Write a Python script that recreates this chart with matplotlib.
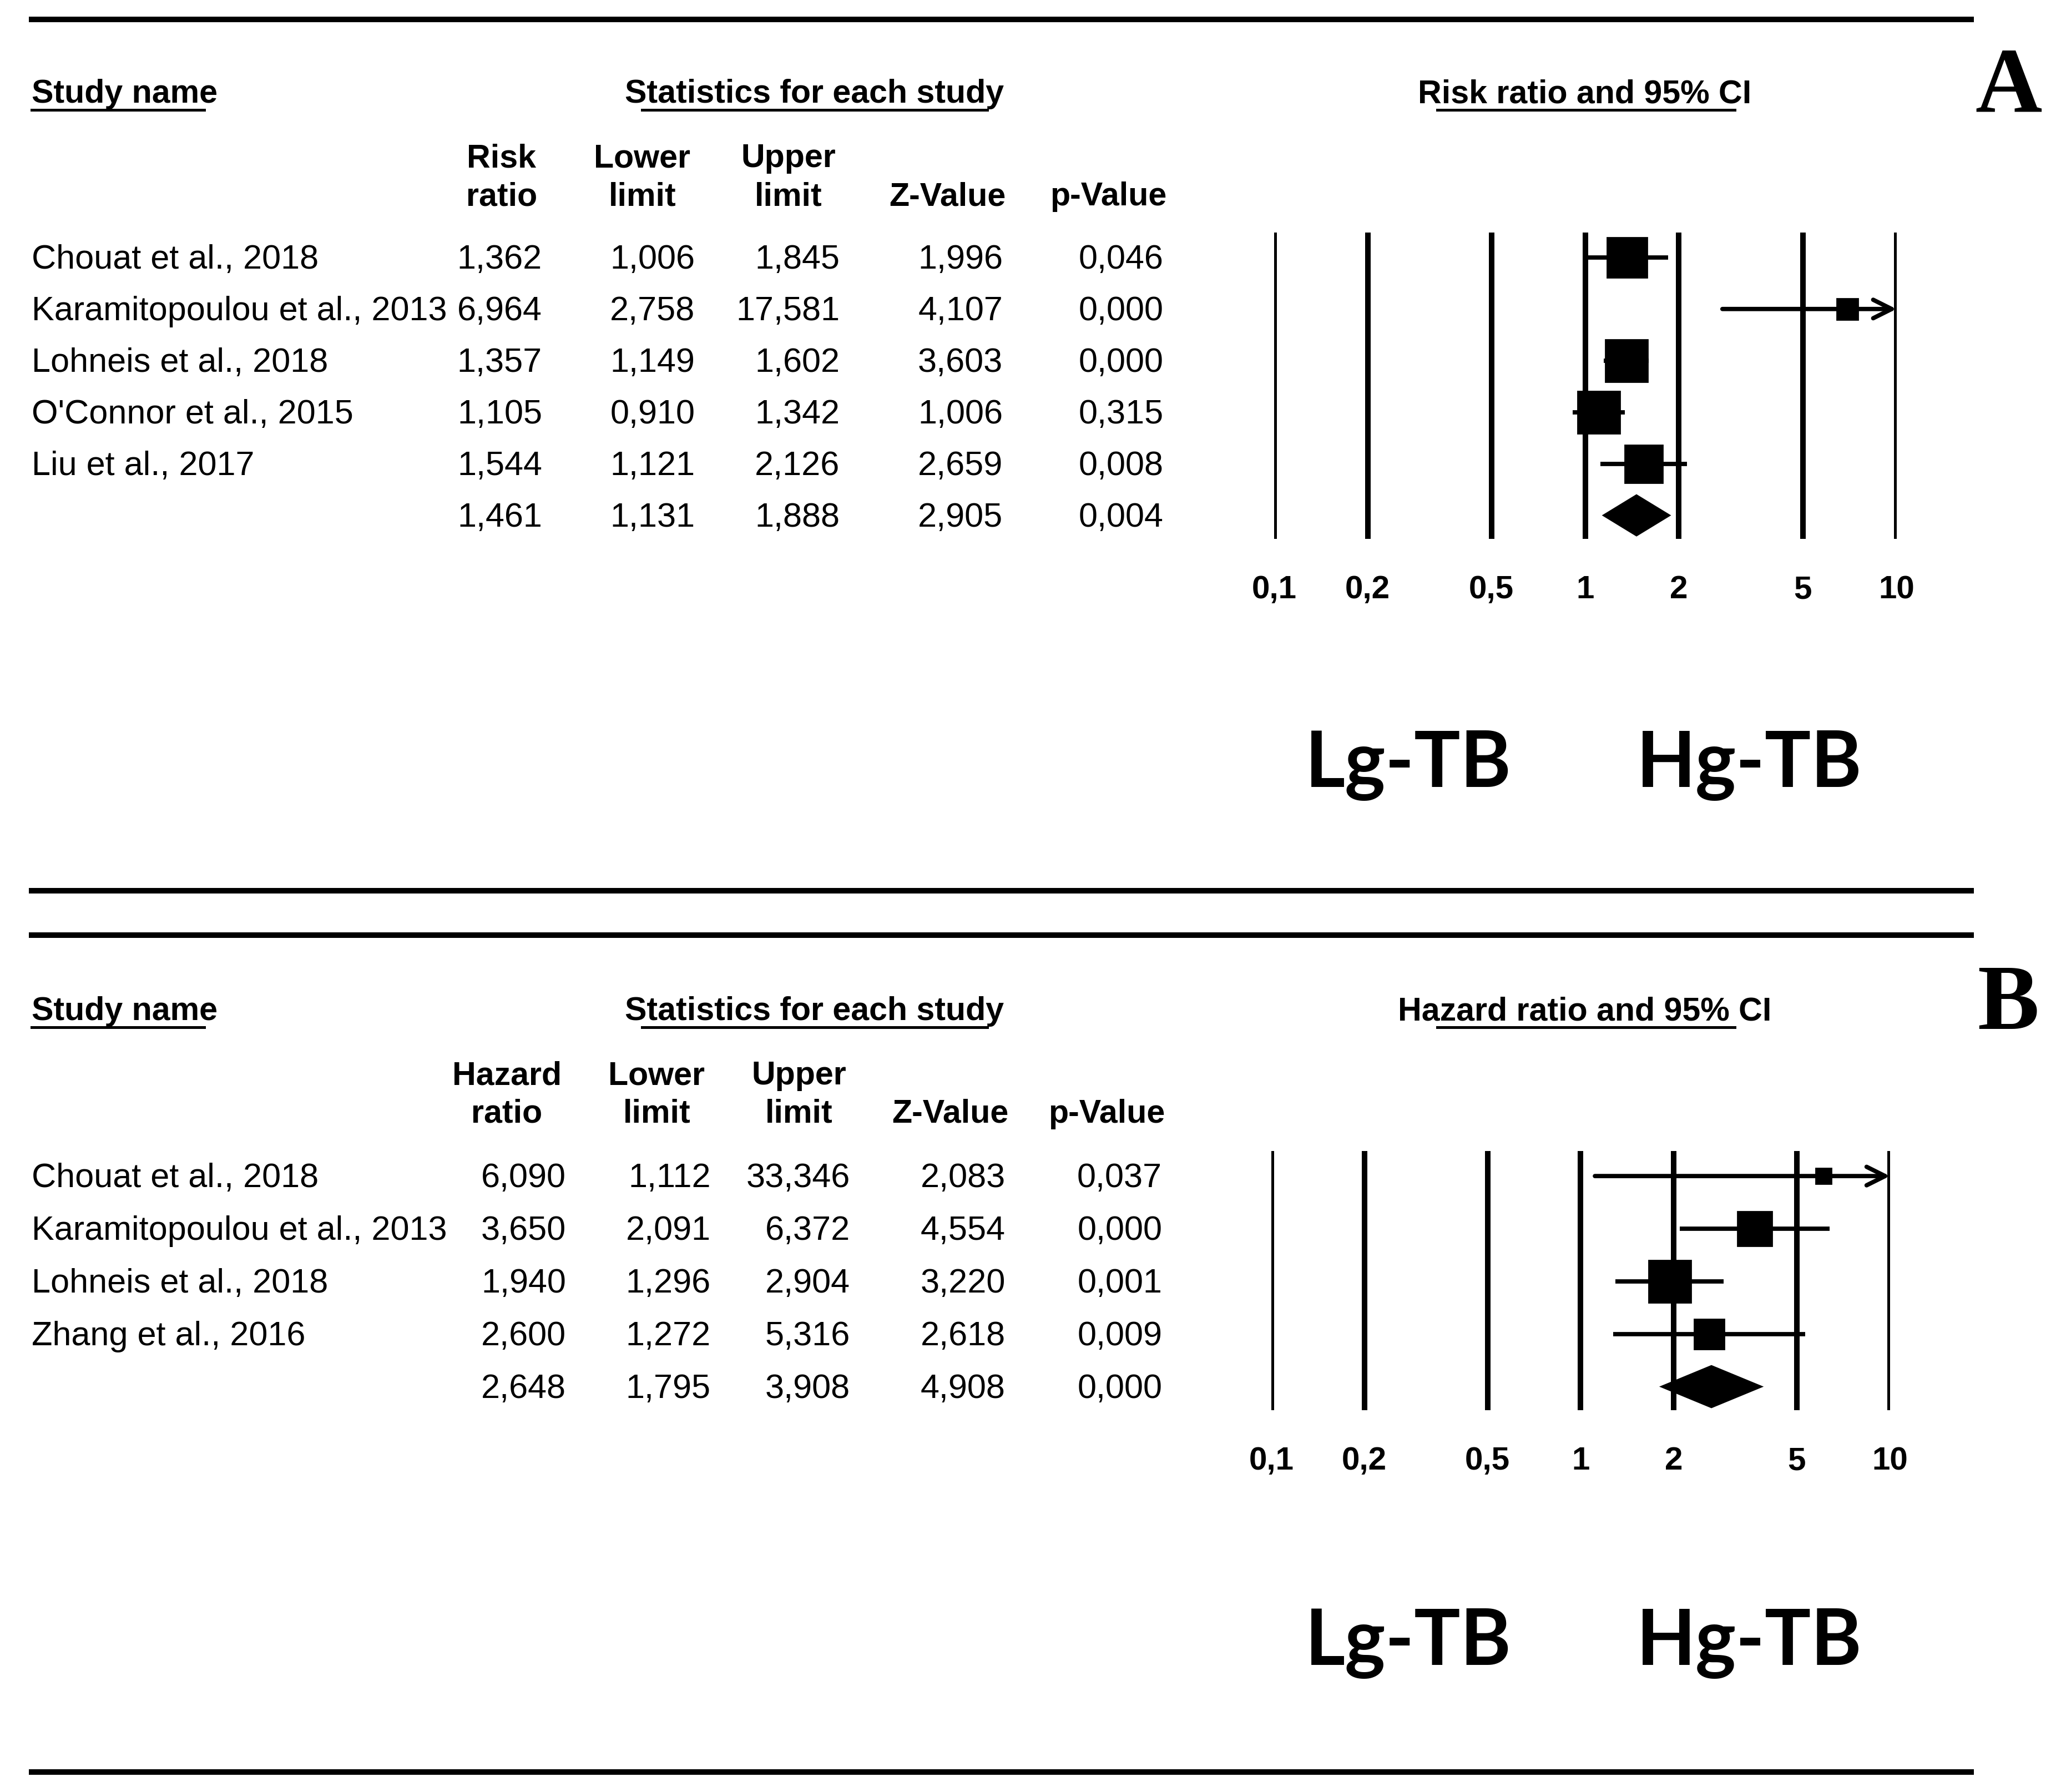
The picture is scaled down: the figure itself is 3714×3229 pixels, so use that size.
import matplotlib.pyplot as plt
import numpy as np

plt.rcParams['font.family'] = ['Liberation Sans', 'DejaVu Sans']

# ---- data ----
studies_a = ['Chouat et al., 2018', 'Karamitopoulou et al., 2013', 'Lohneis et al., 2018',
             "O'Connor et al., 2015", 'Liu et al., 2017']
rr_a = [1.362, 6.964, 1.357, 1.105, 1.544]
lo_a = [1.006, 2.758, 1.149, 0.910, 1.121]
hi_a = [1.845, 17.581, 1.602, 1.342, 2.126]
z_a = [1.996, 4.107, 3.603, 1.006, 2.659]
p_a = [0.046, 0.000, 0.000, 0.315, 0.008]
wt_a = [22.7, 6.5, 25.4, 24.7, 20.7]
pooled_a = [1.461, 1.131, 1.888, 2.905, 0.004]

studies_b = ['Chouat et al., 2018', 'Karamitopoulou et al., 2013', 'Lohneis et al., 2018',
             'Zhang et al., 2016']
hr_b = [6.090, 3.650, 1.940, 2.600]
lo_b = [1.112, 2.091, 1.296, 1.272]
hi_b = [33.346, 6.372, 2.904, 5.316]
z_b = [2.083, 4.554, 3.220, 2.618]
p_b = [0.037, 0.000, 0.001, 0.009]
wt_b = [5.5, 29.6, 43.7, 21.2]
pooled_b = [2.648, 1.795, 3.908, 4.908, 0.000]

ticks = [0.1, 0.2, 0.5, 1, 2, 5, 10]
tick_labels = ['0,1', '0,2', '0,5', '1', '2', '5', '10']

# ---- layout (reference grid, ~0.4216 of the final pixels) ----
W, H = 1566, 1362
fig = plt.figure(figsize=(18.57, 16.15), dpi=200)
bg = fig.add_axes([0, 0, 1, 1])
bg.set_xlim(0, W)
bg.set_ylim(H, 0)
bg.axis('off')


def fmt(v):
    return f'{v:.3f}'.replace('.', ',')


def rect(x0, x1, y0, y1):
    return [x0 / W, 1 - y1 / H, (x1 - x0) / W, (y1 - y0) / H]


# horizontal rules
for y in [15, 677, 711, 1347]:
    bg.plot([22, 1500], [y, y], color='black', lw=3.6, solid_capstyle='butt')


def panel(y0, names, est, lo, hi, z, p, wt, pooled, measure, letter, col_hdr_x, col_x,
          fx0, fx1, row_y, grp_y):
    fs = 22
    hs = 21.3
    dy = 1.5  # text nudge
    # section headers
    bg.text(24, y0 + dy, 'Study name', fontsize=hs, fontweight='bold', va='center', ha='left')
    bg.plot([24, 155], [y0 + 14, y0 + 14], color='black', lw=1.8)
    bg.text(619, y0 + dy, 'Statistics for each study', fontsize=hs, fontweight='bold',
            va='center', ha='center')
    bg.plot([488, 750], [y0 + 14, y0 + 14], color='black', lw=1.8)
    bg.text(1204, y0 + dy, f'{measure} ratio and 95% CI', fontsize=hs, fontweight='bold',
            va='center', ha='center')
    bg.plot([1078 + 14, 1330 - 12], [y0 + 14, y0 + 14], color='black', lw=1.8)
    bg.text(1526, y0 - 2, letter, fontsize=60, fontweight='bold', family='Liberation Serif',
            va='center', ha='center')

    # column headers
    hdrs = [(measure, 'ratio'), ('Lower', 'limit'), ('Upper', 'limit'), ('', 'Z-Value'),
            ('', 'p-Value')]
    for (t1, t2), cx in zip(hdrs, col_hdr_x):
        bg.text(cx, y0 + 49 + dy, t1, fontsize=hs, fontweight='bold', va='center', ha='center')
        bg.text(cx, y0 + 78 + dy, t2, fontsize=hs, fontweight='bold', va='center', ha='center')

    # table rows
    rows = list(zip(names, est, lo, hi, z, p)) + [('',) + tuple(pooled)]
    for i, r in enumerate(rows):
        y = row_y[0] + i * row_y[1] + dy
        bg.text(24, y, r[0], fontsize=fs, va='center', ha='left')
        for v, cx in zip(r[1:], col_x):
            bg.text(cx, y, fmt(v), fontsize=fs, va='center', ha='right')

    # forest plot
    n = len(names)
    top = row_y[0] - 19
    bot = row_y[0] + n * row_y[1] + 18
    ax = fig.add_axes(rect(fx0, fx1, top, bot))
    ax.set_xscale('log')
    ax.set_xlim(0.1, 10)
    ax.set_ylim(n + 18 / row_y[1], -19 / row_y[1])
    for t in ticks:
        ax.axvline(t, color='black', lw=3.6)
    ax.set_xticks(ticks)
    ax.set_xticklabels(tick_labels, fontsize=21, fontweight='bold')
    ax.minorticks_off()
    ax.tick_params(axis='x', length=0, pad=23)
    ax.set_yticks([])
    for s in ax.spines.values():
        s.set_visible(False)
    ax.patch.set_alpha(0)

    wmax = max(wt)
    for i in range(n):
        if hi[i] > 10:
            ax.annotate('', xy=(10, i), xytext=(lo[i], i),
                        arrowprops=dict(arrowstyle='->', lw=2.8, color='black',
                                        mutation_scale=30, shrinkA=0, shrinkB=0))
        else:
            ax.plot([lo[i], hi[i]], [i, i], color='black', lw=2.8, solid_capstyle='butt')
        ax.plot(est[i], i, marker='s', color='black', ms=27.5 * np.sqrt(wt[i] / wmax),
                linestyle='none')
    est_p, lo_p, hi_p = pooled[0], pooled[1], pooled[2]
    h = 0.41
    ax.fill([lo_p, est_p, hi_p, est_p], [n, n - h, n, n + h], color='black', lw=0)

    # group labels
    bg.text(1070, grp_y, 'Lg-TB', fontsize=50, fontweight='bold', family='Lato',
            va='baseline', ha='center')
    bg.text(1329, grp_y, 'Hg-TB', fontsize=50, fontweight='bold', family='Lato',
            va='baseline', ha='center')


panel(70, studies_a, rr_a, lo_a, hi_a, z_a, p_a, wt_a, pooled_a, 'Risk', 'A',
      [381, 488, 599, 720, 842], [412, 528, 638, 762, 884], 968, 1441, (196, 39.2), 598)
panel(767, studies_b, hr_b, lo_b, hi_b, z_b, p_b, wt_b, pooled_b, 'Hazard', 'B',
      [385, 499, 607, 722, 841], [430, 540, 646, 764, 883], 966, 1436, (894, 40.0), 1265)

fig.savefig('out.png', dpi=200, facecolor='white')
